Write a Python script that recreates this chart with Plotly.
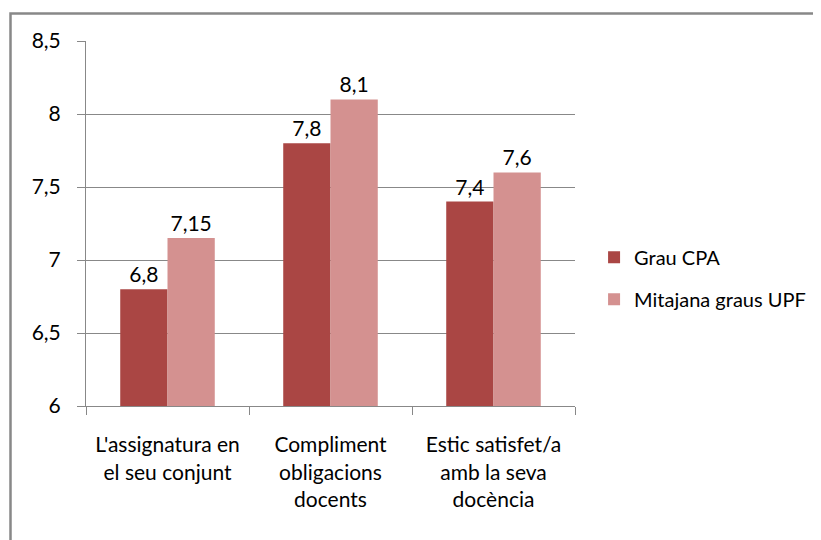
import plotly.graph_objects as go

categories = ["L'assignatura en<br>el seu conjunt", "Compliment<br>obligacions<br>docents", "Estic satisfet/a<br>amb la seva<br>docència"]
series_names = ["Grau CPA", "Mitajana graus UPF"]
grau_cpa = [6.8, 7.8, 7.4]
mitjana_upf = [7.15, 8.1, 7.6]
y_ticks = [6, 6.5, 7, 7.5, 8, 8.5]

colors = ["#AA4644", "#D49190"]
FONT = "Lato, Liberation Sans, sans-serif"

def fmt(v):
    return ("%g" % v).replace(".", ",")

# page body has an 8px offset; compensate in margins
L, T, W, H = 78, 33, 489, 365

fig = go.Figure()
for i, (name, vals) in enumerate(zip(series_names, [grau_cpa, mitjana_upf])):
    fig.add_trace(go.Bar(
        x=categories, y=vals, name=name,
        marker=dict(color=colors[i], line=dict(width=0)),
        text=[fmt(v) for v in vals], textposition="outside",
        textfont=dict(family=FONT, size=21, color="#000000"),
        cliponaxis=False, legendgroup=name,
    ))

fig.update_layout(
    width=821, height=540,
    margin=dict(l=L, r=821 - L - W, t=T, b=540 - T - H, autoexpand=False),
    paper_bgcolor="white", plot_bgcolor="white",
    barmode="group", bargap=0.42, bargroupgap=0,
    separators=",.",
    font=dict(family=FONT, size=21, color="#000000"),
    showlegend=True,
    legend=dict(x=1.039, y=0.35, xanchor="left", yanchor="middle",
                font=dict(family=FONT, size=20, color="#000000"),
                tracegroupgap=13, bgcolor="rgba(0,0,0,0)"),
    xaxis=dict(
        tickson="boundaries", ticks="outside", ticklen=8, tickcolor="#888888",
        showline=True, linecolor="#888888", linewidth=1, showgrid=False,
        tickfont=dict(family=FONT, size=21, color="#000000"),
        ticklabelstandoff=20,
    ),
    yaxis=dict(
        range=[6, 8.5], tickvals=y_ticks, ticks="outside", ticklen=8,
        tickcolor="#888888", showline=True, linecolor="#888888", linewidth=1,
        showgrid=True, gridcolor="#888888", gridwidth=1, zeroline=False,
        tickfont=dict(family=FONT, size=21, color="#000000"),
        ticklabelstandoff=12,
    ),
    shapes=[dict(type="rect", xref="paper", yref="paper",
                 x0=(2.5 - L) / W, x1=(840 - L) / W,
                 y0=-(560 - T - H) / H, y1=1 + (T - 5.5) / H,
                 line=dict(color="#888888", width=2.5), layer="below")],
)

fig.write_html("out.html")
